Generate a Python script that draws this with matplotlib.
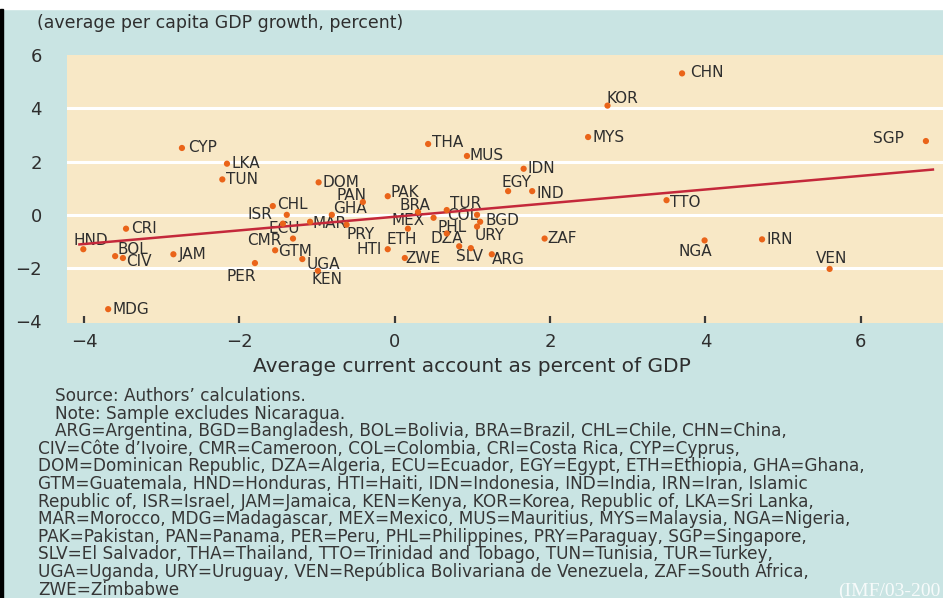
import matplotlib.pyplot as plt
from matplotlib.patches import Rectangle

# country codes with average current account (% of GDP) and per capita GDP growth (%)
codes = ['CHN', 'KOR', 'MYS', 'SGP', 'THA', 'MUS', 'CYP', 'LKA', 'TUN', 'IDN',
         'DOM', 'EGY', 'IND', 'PAK', 'TTO', 'PAN', 'CHL', 'BRA', 'TUR', 'ISR',
         'GHA', 'ECU', 'MAR', 'PRY', 'MEX', 'COL', 'BGD', 'PHL', 'URY', 'ETH',
         'DZA', 'SLV', 'CRI', 'CMR', 'ZAF', 'NGA', 'IRN', 'HND', 'HTI', 'GTM',
         'JAM', 'ARG', 'BOL', 'ZWE', 'CIV', 'UGA', 'PER', 'VEN', 'KEN', 'MDG']
cur_acct = [3.70, 2.74, 2.49, 6.84, 0.43, 0.93, -2.74, -2.16, -2.22, 1.66,
            -0.98, 1.46, 1.77, -0.09, 3.50, -0.41, -1.57, 0.30, 0.67, -1.39,
            -0.81, -1.44, -1.09, -0.62, 0.50, 1.06, 1.10, 0.67, 1.06, 0.17,
            0.83, 0.98, -3.46, -1.31, 1.93, 3.99, 4.73, -4.01, -0.09, -1.54,
            -2.85, 1.25, -3.60, 0.13, -3.50, -1.19, -1.80, 5.60, -0.99, -3.69]
gdp_growth = [5.31, 4.10, 2.92, 2.77, 2.66, 2.21, 2.51, 1.92, 1.33, 1.73,
              1.22, 0.89, 0.89, 0.70, 0.55, 0.48, 0.33, 0.11, 0.18, 0.00,
              0.00, -0.33, -0.26, -0.37, -0.11, 0.00, -0.26, -0.70, -0.44, -0.52,
              -1.18, -1.25, -0.52, -0.89, -0.89, -0.96, -0.92, -1.29, -1.29, -1.33,
              -1.48, -1.48, -1.55, -1.62, -1.62, -1.66, -1.81, -2.03, -2.10, -3.54]

# fitted line end points
trend_x = [-4.06, 6.93]
trend_y = [-1.11, 1.70]

x_ticks = [-4, -2, 0, 2, 4, 6]
y_ticks = [-4, -2, 0, 2, 4, 6]

y_title = '(average per capita GDP growth, percent)'
x_title = 'Average current account as percent of GDP'

notes = [
    'Source: Authors\u2019 calculations.',
    'Note: Sample excludes Nicaragua.',
    'ARG=Argentina, BGD=Bangladesh, BOL=Bolivia, BRA=Brazil, CHL=Chile, CHN=China,',
    'CIV=C\u00f4te d\u2019Ivoire, CMR=Cameroon, COL=Colombia, CRI=Costa Rica, CYP=Cyprus,',
    'DOM=Dominican Republic, DZA=Algeria, ECU=Ecuador, EGY=Egypt, ETH=Ethiopia, GHA=Ghana,',
    'GTM=Guatemala, HND=Honduras, HTI=Haiti, IDN=Indonesia, IND=India, IRN=Iran, Islamic',
    'Republic of, ISR=Israel, JAM=Jamaica, KEN=Kenya, KOR=Korea, Republic of, LKA=Sri Lanka,',
    'MAR=Morocco, MDG=Madagascar, MEX=Mexico, MUS=Mauritius, MYS=Malaysia, NGA=Nigeria,',
    'PAK=Pakistan, PAN=Panama, PER=Peru, PHL=Philippines, PRY=Paraguay, SGP=Singapore,',
    'SLV=El Salvador, THA=Thailand, TTO=Trinidad and Tobago, TUN=Tunisia, TUR=Turkey,',
    'UGA=Uganda, URY=Uruguay, VEN=Rep\u00fablica Bolivariana de Venezuela, ZAF=South Africa,',
    'ZWE=Zimbabwe',
]
stamp = '(IMF/03-200'

# where each code label sits relative to its dot: (ha, dx, dy) in pixels
label_pos = {
    'CHN': ('left', 8, 1), 'KOR': ('center', 15, 7), 'MYS': ('left', 4, 0),
    'SGP': ('right', -22, 3), 'THA': ('left', 4, 1), 'MUS': ('left', 3, 0),
    'CYP': ('left', 6, 0), 'LKA': ('left', 5, 0), 'TUN': ('left', 4, 0),
    'IDN': ('left', 4, 0), 'DOM': ('left', 4, 0), 'EGY': ('center', 8, 9),
    'IND': ('left', 4, -2), 'PAK': ('left', 3, 4), 'TTO': ('left', 3, -2),
    'PAN': ('center', -11, 7), 'CHL': ('left', 4, 2), 'BRA': ('center', -3, 6),
    'TUR': ('left', 3, 7), 'ISR': ('right', -14, 0), 'GHA': ('left', 1, 6),
    'ECU': ('center', 1, -5), 'MAR': ('left', 2, -2), 'PRY': ('left', 0, -10),
    'MEX': ('right', -9, -3), 'COL': ('right', 1, -1), 'BGD': ('left', 5, 1),
    'PHL': ('center', 5, 6), 'URY': ('left', -2, -9), 'ETH': ('center', -6, -11),
    'DZA': ('center', -12, 8), 'SLV': ('center', -1, -8), 'CRI': ('left', 5, 0),
    'CMR': ('right', -11, -2), 'ZAF': ('left', 3, 0), 'NGA': ('center', -9, -11),
    'IRN': ('left', 4, 0), 'HND': ('center', 8, 9), 'HTI': ('right', -6, 0),
    'GTM': ('left', 3, -1), 'JAM': ('left', 5, 0), 'ARG': ('left', 0, -5),
    'BOL': ('left', 2, 7), 'ZWE': ('left', 1, -1), 'CIV': ('left', 3, -4),
    'UGA': ('left', 4, -5), 'PER': ('center', -14, -13), 'VEN': ('center', 2, 10),
    'KEN': ('center', 9, -9), 'MDG': ('left', 4, 0),
}

W, H = 943, 598
bg_blue = '#c9e4e3'
plot_bg = '#f8e8c6'
dot_col = '#ea6419'
line_col = '#c4283a'
txt_col = '#2e2e2e'

plt.rcParams['font.family'] = 'DejaVu Sans'

fig = plt.figure(figsize=(W / 100, H / 100), dpi=100, facecolor=bg_blue)
ax = fig.add_axes([67 / W, 1 - 323 / H, 1 - 67 / W, (323 - 55) / H])
ax.set_facecolor(plot_bg)
ax.set_xlim(-4.22, 7.06)
ax.set_ylim(-4.06, 6.0)

for s in ax.spines.values():
    s.set_visible(False)

# white horizontal rules inside the plot
for yv in y_ticks[1:-1]:
    ax.axhline(yv, color='white', lw=2.2, zorder=1)

ax.set_xticks(x_ticks)
ax.set_yticks(y_ticks)
ax.tick_params(axis='x', direction='in', length=5, width=1.6, color='#3a3a3a',
               pad=7, labelsize=13, labelcolor=txt_col)
ax.tick_params(axis='y', length=0, pad=18, labelsize=13, labelcolor=txt_col)

ax.plot(trend_x, trend_y, color=line_col, lw=1.8, zorder=4)
ax.scatter(cur_acct, gdp_growth, s=20, color=dot_col, edgecolors='none', zorder=5)

for c, xv, yv in zip(codes, cur_acct, gdp_growth):
    ha, dx, dy = label_pos[c]
    ax.annotate(c, (xv, yv), xytext=(dx, dy), textcoords='offset pixels',
                ha=ha, va='center', fontsize=11, color=txt_col, zorder=3)

fig.text(37 / W, 1 - 23 / H, y_title, ha='left', va='center', fontsize=12.5, color=txt_col)
fig.text(472 / W, 1 - 367 / H, x_title, ha='center', va='center', fontsize=14.5, color=txt_col)

# footnotes, first three lines indented
for i, line in enumerate(notes):
    x0 = 55 if i < 3 else 38
    fig.text(x0 / W, 1 - (396 + 17.6 * i) / H, line, ha='left', va='center',
             fontsize=12.2, color='#363636')

fig.text(838 / W, 1 - 591 / H, stamp, ha='left', va='center', fontsize=14,
         family='Liberation Serif', color='white', alpha=0.85)

# thin white strip along the top and dark edge on the left
fig.patches.append(Rectangle((0, 1 - 9 / H), 1, 9 / H, transform=fig.transFigure,
                             color='white', zorder=0))
fig.patches.append(Rectangle((0, 0), 3 / W, 1 - 9 / H, transform=fig.transFigure,
                             color='black', zorder=0))

fig.savefig('out.png', dpi=100, facecolor=fig.get_facecolor())
